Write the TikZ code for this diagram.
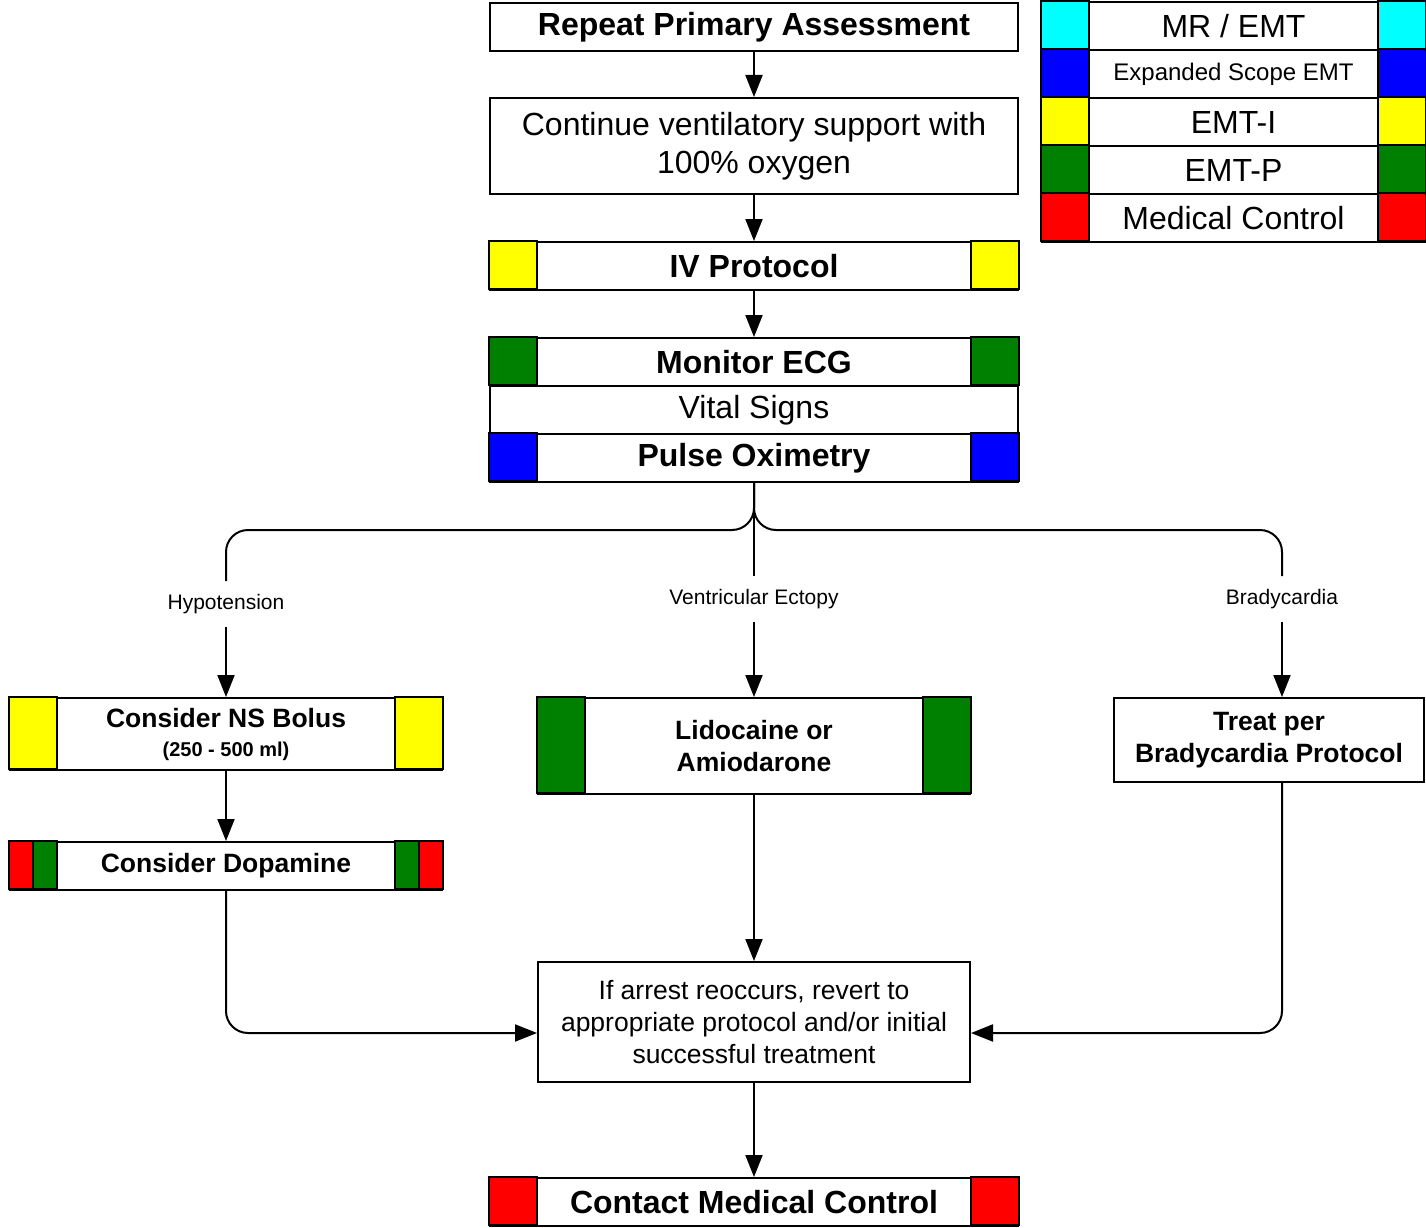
\documentclass[tikz,border=0pt]{standalone}
\usepackage{fontspec}
\setmainfont{Liberation Sans}
\usetikzlibrary{arrows.meta}
\definecolor{cCyan}{RGB}{0,255,255}
\definecolor{cBlue}{RGB}{0,0,255}
\definecolor{cYellow}{RGB}{255,255,0}
\definecolor{cGreen}{RGB}{0,128,0}
\definecolor{cRed}{RGB}{255,0,0}
\begin{document}
\begin{tikzpicture}[x=1pt,y=-1pt,line width=2pt,
  box/.style={draw,fill=white,inner sep=0pt,align=center},
  bigr/.style={font=\fontsize{32}{38}\selectfont},
  bigb/.style={font=\fontsize{32}{38}\selectfont\bfseries},
  midb/.style={font=\fontsize{26.5}{32}\selectfont\bfseries},
  midr/.style={font=\fontsize{26.5}{32}\selectfont},
  lbl/.style={font=\fontsize{21}{24}\selectfont,inner sep=0pt,minimum height=44pt,fill=white},
  arr/.style={-{Triangle[length=22pt,width=17pt]}},
  sq/.style={draw}]
\useasboundingbox (0,0) rectangle (1426,1228);

% top chain
\node[box,bigb,minimum width=528pt,minimum height=48pt] (repeat) at (754,27) {Repeat Primary Assessment};
\node[box,bigr,minimum width=528pt,minimum height=96pt] (cont) at (754,146) {Continue ventilatory support with\\100\% oxygen};
\node[box,bigb,minimum width=528pt,minimum height=48pt] (iv) at (754,266) {IV Protocol};
\draw[sq,fill=cYellow] (iv.north west) rectangle ++(48,48);
\draw[sq,fill=cYellow] (iv.north east) rectangle ++(-48,48);

\node[box,bigb,minimum width=528pt,minimum height=48pt] (ecg) at (754,362) {Monitor ECG};
\node[box,bigr,minimum width=528pt,minimum height=48pt] (vital) at (754,410) {Vital Signs};
\node[box,bigb,minimum width=528pt,minimum height=48pt] (pulse) at (754,458) {Pulse Oximetry};
\draw[sq,fill=cGreen] (ecg.north west) rectangle ++(48,48);
\draw[sq,fill=cGreen] (ecg.north east) rectangle ++(-48,48);
\draw[sq,fill=cBlue] (pulse.north west) rectangle ++(48,48);
\draw[sq,fill=cBlue] (pulse.north east) rectangle ++(-48,48);

\draw[arr] (repeat) -- (cont);
\draw[arr] (cont) -- (iv);
\draw[arr] (iv) -- (ecg);

% legend
\node[box,bigr,minimum width=383pt,minimum height=48pt] (lg1) at (1233.5,26) {MR / EMT};
\node[box,font=\fontsize{24}{28}\selectfont,minimum width=383pt,minimum height=48pt] (lg2) at (1233.5,74) {Expanded Scope EMT};
\node[box,bigr,minimum width=383pt,minimum height=48pt] (lg3) at (1233.5,122) {EMT-I};
\node[box,bigr,minimum width=383pt,minimum height=48pt] (lg4) at (1233.5,170) {EMT-P};
\node[box,bigr,minimum width=383pt,minimum height=48pt] (lg5) at (1233.5,218) {Medical Control};
\foreach \n/\c in {lg1/cCyan,lg2/cBlue,lg3/cYellow,lg4/cGreen,lg5/cRed}{
  \draw[sq,fill=\c] (\n.north west) rectangle ++(48,48);
  \draw[sq,fill=\c] (\n.north east) rectangle ++(-48,48);
}

% branch labels
\coordinate (split) at (754,530);
\node[lbl] (lblH) at (226,604) {Hypotension};
\node[lbl] (lblV) at (754,599) {Ventricular Ectopy};
\node[lbl] (lblB) at (1282,599) {Bradycardia};
\draw[rounded corners=22pt] (pulse.south) -- (split) -| (lblH.north);
\draw[rounded corners=22pt] (pulse.south) -- (split) -| (lblB.north);
\draw (pulse.south) -- (lblV.north);

% middle level
\node[box,font=\fontsize{20}{29}\selectfont\bfseries,minimum width=432pt,minimum height=72pt] (ns) at (226,734) {{\fontsize{26.5}{29}\selectfont Consider NS Bolus}\\(250 - 500 ml)};
\draw[sq,fill=cYellow] (ns.north west) rectangle ++(48,72);
\draw[sq,fill=cYellow] (ns.north east) rectangle ++(-48,72);

\node[box,midb,minimum width=432pt,minimum height=48pt] (dop) at (226,866) {Consider Dopamine};
\draw[sq,fill=cRed] (dop.north west) rectangle ++(24,48);
\draw[sq,fill=cGreen] ([xshift=24pt]dop.north west) rectangle ++(24,48);
\draw[sq,fill=cRed] (dop.north east) rectangle ++(-24,48);
\draw[sq,fill=cGreen] ([xshift=-24pt]dop.north east) rectangle ++(-24,48);

\node[box,midb,minimum width=432pt,minimum height=96pt] (lido) at (754,746) {Lidocaine or\\Amiodarone};
\draw[sq,fill=cGreen] (lido.north west) rectangle ++(48,96);
\draw[sq,fill=cGreen] (lido.north east) rectangle ++(-48,96);

\node[box,midb,minimum width=310pt,minimum height=84pt] (treat) at (1269,740) {Treat per\\Bradycardia Protocol};

\node[box,midr,minimum width=432pt,minimum height=120pt] (arrest) at (754,1022) {If arrest reoccurs, revert to\\appropriate protocol and/or initial\\successful treatment};

\node[box,bigb,minimum width=528pt,minimum height=48pt] (contact) at (754,1202) {Contact Medical Control};
\draw[sq,fill=cRed] (contact.north west) rectangle ++(48,48);
\draw[sq,fill=cRed] (contact.north east) rectangle ++(-48,48);

% arrows
\draw[arr] (lblH.south) -- (ns.north);
\draw[arr] (lblV.south) -- (lido.north);
\draw[arr] (lblB.south) -- (lblB.south |- treat.north);
\draw[arr] (ns) -- (dop);
\draw[arr] (lido) -- (arrest);
\draw[arr] (arrest) -- (contact);
\draw[arr,rounded corners=22pt] (dop.south) |- ([yshift=-11pt]arrest.west);
\draw[arr,rounded corners=22pt] (lblB.south |- treat.south) |- ([yshift=-11pt]arrest.east);
\end{tikzpicture}
\end{document}
